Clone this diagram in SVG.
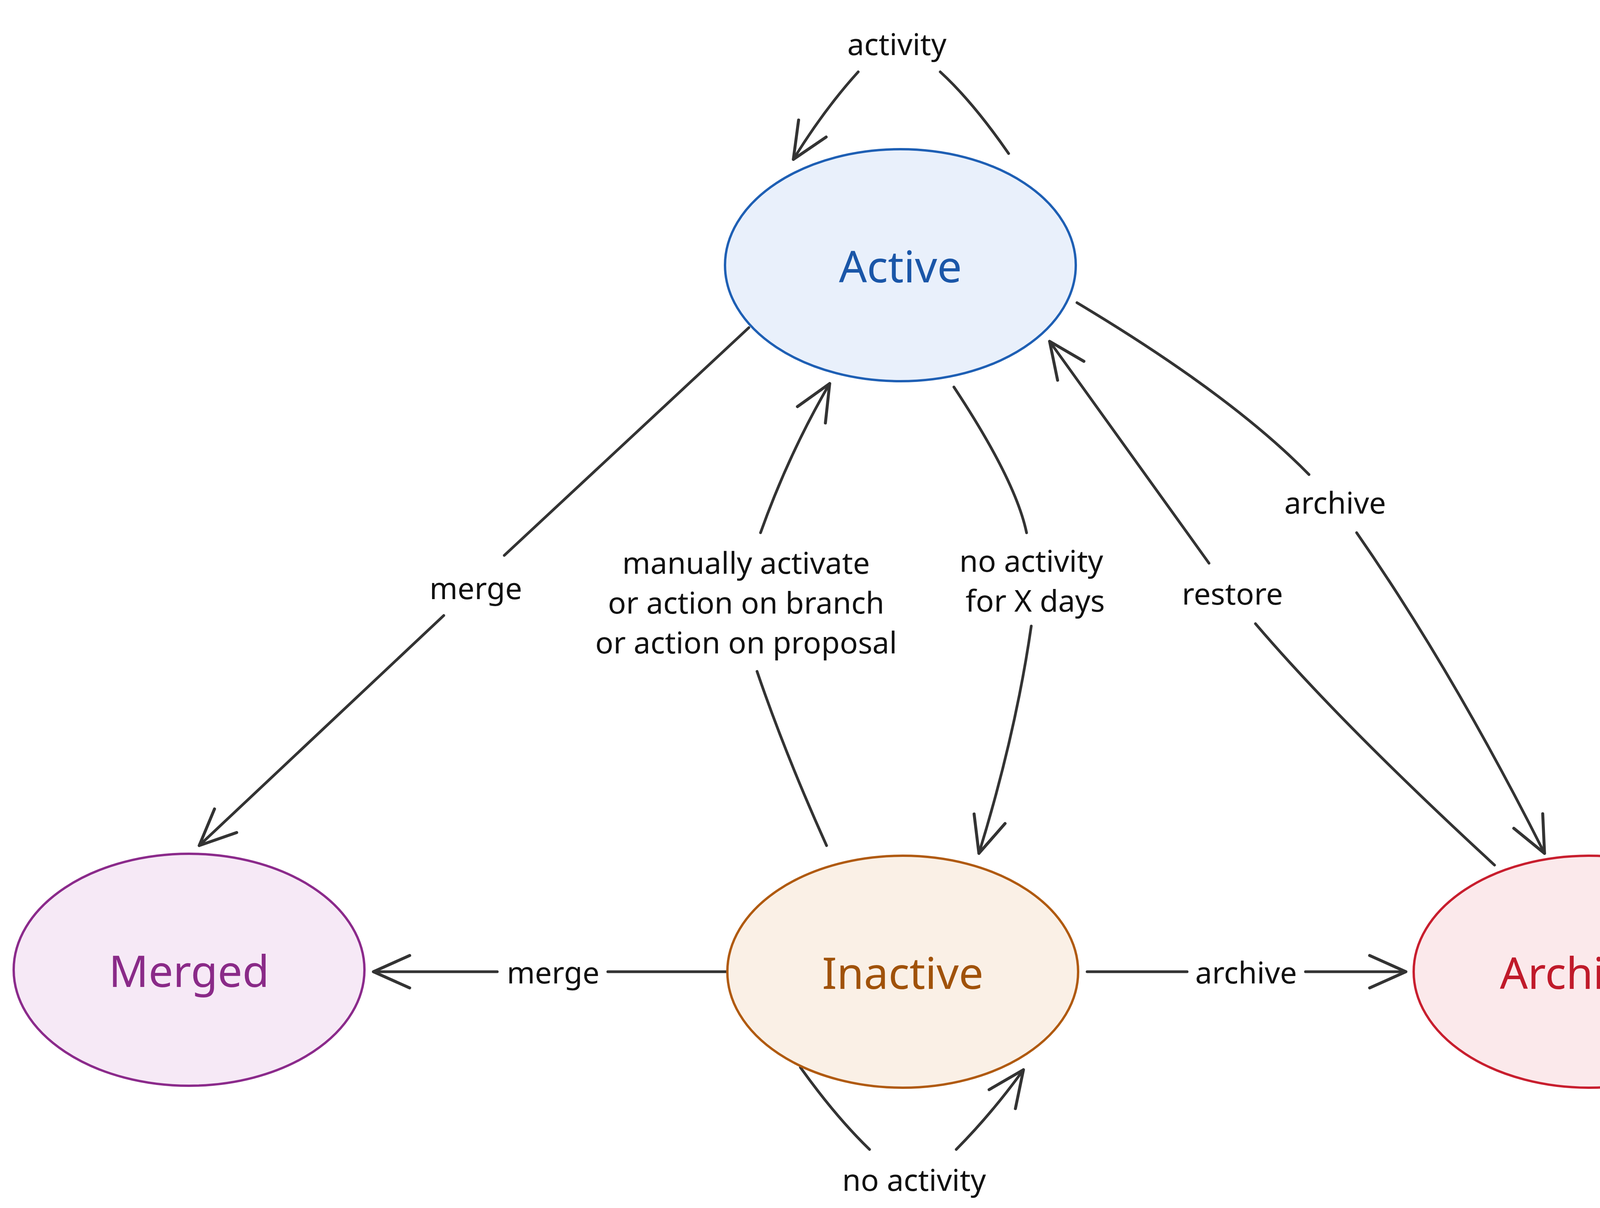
<svg xmlns="http://www.w3.org/2000/svg" width="4546" height="3093" viewBox="0 0 4546 3093">
<style>
.n{stroke-width:6}
.t{font-family:"Noto Sans","Liberation Sans",sans-serif;font-size:112px;text-anchor:middle;dominant-baseline:central}
.e{fill:none;stroke:#333;stroke-width:7;stroke-linecap:round}
.l{font-family:"Noto Sans","Liberation Sans",sans-serif;font-size:77px;fill:#111;text-anchor:middle;dominant-baseline:central}
</style>
<defs>
<marker id="a" markerUnits="userSpaceOnUse" markerWidth="120" markerHeight="120" viewBox="-100 -50 110 100" refX="0" refY="0" orient="auto">
<path d="M-85,-38 L0,0 L-85,38" fill="none" stroke="#333" stroke-width="7" stroke-linecap="round" stroke-linejoin="round"/>
</marker>
</defs>
<rect width="4546" height="3093" fill="#fff"/>
<g id="edges">
<path class="e" d="M2582,393 Q2490,260 2407,184"/>
<path class="e" d="M2197,184 Q2110,280 2031,408" marker-end="url(#a)"/>
<text class="l" x="2296" y="111">activity</text>
<path class="e" d="M1917,839 L1291,1422"/>
<path class="e" d="M1136,1576 L510,2165" marker-end="url(#a)"/>
<text class="l" x="1218" y="1504">merge</text>
<path class="e" d="M2116,2165 Q2010,1930 1938,1719"/>
<path class="e" d="M1947,1364 Q2020,1160 2124,982" marker-end="url(#a)"/>
<text class="l" x="1910" y="1439">manually activate</text>
<text class="l" x="1910" y="1541">or action on branch</text>
<text class="l" x="1910" y="1643">or action on proposal</text>
<path class="e" d="M2442,991 Q2600,1230 2628,1364"/>
<path class="e" d="M2640,1603 Q2600,1880 2506,2185" marker-end="url(#a)"/>
<text class="l" x="2640" y="1434">no activity</text>
<text class="l" x="2650" y="1536">for X days</text>
<path class="e" d="M3826,2215 Q3430,1850 3214,1597"/>
<path class="e" d="M3095,1442 L2687,874" marker-end="url(#a)"/>
<text class="l" x="3155" y="1518">restore</text>
<path class="e" d="M2757,775 Q3150,1010 3351,1215"/>
<path class="e" d="M3473,1364 Q3720,1720 3954,2185" marker-end="url(#a)"/>
<text class="l" x="3418" y="1285">archive</text>
<path class="e" d="M1865,2488 L1556,2488"/>
<path class="e" d="M1273,2488 L956,2488" marker-end="url(#a)"/>
<text class="l" x="1416" y="2488">merge</text>
<path class="e" d="M2783,2488 L3039,2488"/>
<path class="e" d="M3342,2488 L3599,2488" marker-end="url(#a)"/>
<text class="l" x="3190" y="2488">archive</text>
<path class="e" d="M2049,2733 Q2140,2860 2226,2943"/>
<path class="e" d="M2448,2943 Q2540,2850 2620,2739" marker-end="url(#a)"/>
<text class="l" x="2340" y="3019">no activity</text>
</g>
<g id="active"><ellipse class="n" cx="2305" cy="679" rx="449" ry="297" fill="#e9f0fb" stroke="#1e5fb4"/><text class="t" x="2305" y="679" fill="#1a56a8">Active</text></g>
<g id="merged"><ellipse class="n" cx="484" cy="2483" rx="449" ry="297" fill="#f6e9f6" stroke="#8b2a8b"/><text class="t" x="484" y="2483" fill="#8a2a88">Merged</text></g>
<g id="inactive"><ellipse class="n" cx="2311" cy="2488" rx="449" ry="297" fill="#faf0e6" stroke="#b05a10"/><text class="t" x="2311" y="2488" fill="#a0520a">Inactive</text></g>
<g id="archived"><ellipse class="n" cx="4068" cy="2488" rx="449" ry="297" fill="#fbe9eb" stroke="#c81e2e"/><text class="t" x="4068" y="2488" fill="#c01a2a">Archived</text></g>
</svg>
